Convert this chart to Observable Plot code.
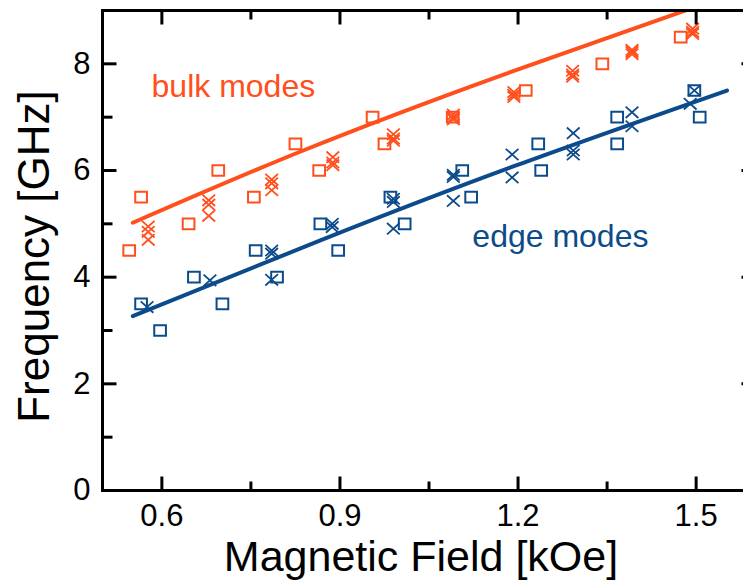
<!DOCTYPE html>
<html>
<head>
<meta charset="utf-8">
<script src="https://cdn.jsdelivr.net/npm/d3@7"></script>
<script src="https://cdn.jsdelivr.net/npm/@observablehq/plot@0.6"></script>
<style>
  html, body { margin: 0; padding: 0; background: #fff; overflow: hidden; }
  #chart svg { display: block; max-width: none; }
</style>
</head>
<body>
<div id="chart"></div>
<script>
// Bulk modes: measured frequencies (squares and crosses) and the calculated curve
const bulkSquareField = [0.545, 0.565, 0.645, 0.695, 0.755, 0.825, 0.865, 0.955, 0.975, 1.09, 1.213, 1.342, 1.474];
const bulkSquareFreq  = [4.5, 5.5, 5.0, 6.0, 5.5, 6.5, 6.0, 7.0, 6.5, 7.0, 7.5, 8.0, 8.5];
const bulkCrossField = [0.577, 0.577, 0.577, 0.679, 0.679, 0.679, 0.785, 0.785, 0.785, 0.888, 0.888, 0.888,
                        0.99, 0.99, 0.99, 1.091, 1.091, 1.091, 1.193, 1.193, 1.193, 1.292, 1.292, 1.292,
                        1.392, 1.392, 1.392, 1.494, 1.494, 1.494];
const bulkCrossFreq  = [4.95, 4.85, 4.7, 5.44, 5.36, 5.15, 5.83, 5.76, 5.63, 6.25, 6.15, 6.1,
                        6.68, 6.6, 6.56, 7.05, 7.0, 6.96, 7.47, 7.42, 7.38, 7.87, 7.8, 7.76,
                        8.26, 8.22, 8.18, 8.66, 8.6, 8.56];
const bulkCurveField = [0.551, 0.837, 1.171, 1.474, 1.55];
const bulkCurveFreq  = [5.02, 6.37, 7.78, 8.97, 9.27];

// Edge modes
const edgeSquareField = [0.565, 0.597, 0.654, 0.702, 0.758, 0.794, 0.867, 0.897, 0.985, 1.009, 1.106, 1.121,
                         1.234, 1.239, 1.367, 1.367, 1.497, 1.506];
const edgeSquareFreq  = [3.5, 3.0, 4.0, 3.5, 4.5, 4.0, 5.0, 4.5, 5.5, 5.0, 6.0, 5.5,
                         6.5, 6.0, 7.0, 6.5, 7.5, 7.0];
const edgeCrossField = [0.575, 0.681, 0.785, 0.785, 0.785, 0.887, 0.887, 0.99, 0.99, 0.99,
                        1.091, 1.091, 1.091, 1.19, 1.19, 1.293, 1.293, 1.293, 1.392, 1.392, 1.49, 1.497];
const edgeCrossFreq  = [3.44, 3.94, 4.5, 4.44, 3.95, 5.0, 4.94, 5.47, 5.41, 4.91,
                        5.92, 5.88, 5.43, 6.3, 5.87, 6.7, 6.375, 6.3, 7.09, 6.83, 7.25, 7.5];
const edgeCurveField = [0.551, 0.867, 1.193, 1.552];
const edgeCurveFreq  = [3.27, 4.69, 6.08, 7.5];

// Axes
const xMajorTicks = [0.6, 0.9, 1.2, 1.5];
const xMinorTicks = [0.75, 1.05, 1.35];
const yMajorTicks = [0, 2, 4, 6, 8];
const yMinorTicks = [1, 3, 5, 7];
const xTitle = "Magnetic Field [kOe]";
const yTitle = "Frequency [GHz]";

// Curve labels
const labelText  = ["bulk modes", "edge modes"];
const labelField = [0.5826, 1.123];
const labelFreq  = [7.375, 4.575];

const orange = "#ff4f1c";
const blue = "#0b4b8b";
const font = "'Liberation Sans', Arial, Helvetica, sans-serif";

const pts = (xs, ys) => xs.map((x, i) => ({x, y: ys[i]}));

// Slightly wide open square and cross markers
const squareSym = {draw(ctx, size) {
  const h = Math.sqrt(size), w = h * 1.1;
  ctx.moveTo(-w / 2, -h / 2); ctx.lineTo(w / 2, -h / 2); ctx.lineTo(w / 2, h / 2);
  ctx.lineTo(-w / 2, h / 2); ctx.closePath();
}};
const crossSym = {draw(ctx, size) {
  const a = Math.sqrt(size) / 2, b = a * 1.12;
  ctx.moveTo(-b, -a); ctx.lineTo(b, a); ctx.moveTo(b, -a); ctx.lineTo(-b, a);
}};
// Straight tick stub used by vector marks
const stub = {draw(ctx, l) { ctx.moveTo(0, 0); ctx.lineTo(0, -l); }};

const tickMarks = (values, anchor, len) => {
  const horizontal = anchor === "top" || anchor === "bottom";
  const rotate = {bottom: 0, top: 180, left: 90, right: -90}[anchor];
  return Plot.vector(values, {
    [horizontal ? "x" : "y"]: d => d,
    frameAnchor: anchor, length: len, rotate, anchor: "start", shape: stub,
    stroke: "black", strokeWidth: 3, strokeLinecap: "butt"
  });
};

const chart = Plot.plot({
  width: 755, height: 581,
  marginLeft: 102, marginRight: 0, marginTop: 10, marginBottom: 91,
  style: {fontFamily: font, background: "white", overflow: "visible", maxWidth: "none"},
  x: {domain: [0.5, 1.6], axis: null},
  y: {domain: [0, 9], axis: null},
  marks: [
    Plot.line(pts(bulkCurveField, bulkCurveFreq), {x: "x", y: "y", stroke: orange, strokeWidth: 4, curve: "natural", clip: true}),
    Plot.line(pts(edgeCurveField, edgeCurveFreq), {x: "x", y: "y", stroke: blue, strokeWidth: 4, curve: "natural", clip: true}),
    Plot.dot(pts(bulkSquareField, bulkSquareFreq), {x: "x", y: "y", symbol: squareSym, r: 6, stroke: orange, strokeWidth: 2, fill: "none"}),
    Plot.dot(pts(bulkCrossField, bulkCrossFreq), {x: "x", y: "y", symbol: crossSym, r: 6.4, stroke: orange, strokeWidth: 1.8, fill: "none"}),
    Plot.dot(pts(edgeSquareField, edgeSquareFreq), {x: "x", y: "y", symbol: squareSym, r: 6, stroke: blue, strokeWidth: 2, fill: "none"}),
    Plot.dot(pts(edgeCrossField, edgeCrossFreq), {x: "x", y: "y", symbol: crossSym, r: 6.4, stroke: blue, strokeWidth: 1.8, fill: "none"}),
    Plot.frame({stroke: "black", strokeWidth: 3}),
    tickMarks(xMajorTicks, "bottom", 14), tickMarks(xMinorTicks, "bottom", 9),
    tickMarks(xMajorTicks, "top", 14), tickMarks(xMinorTicks, "top", 9),
    tickMarks(yMajorTicks, "left", 14), tickMarks(yMinorTicks, "left", 10),
    tickMarks(yMajorTicks, "right", 14), tickMarks(yMinorTicks, "right", 9),
    Plot.text(xMajorTicks, {x: d => d, frameAnchor: "bottom", dy: 13, lineAnchor: "top", textAnchor: "middle",
      text: d => d.toFixed(1), fontSize: 31, fill: "black", ariaLabel: "x tick labels"}),
    Plot.text(yMajorTicks, {y: d => d, frameAnchor: "left", dx: -12, textAnchor: "end",
      text: d => String(d), fontSize: 31, fill: "black", ariaLabel: "y tick labels"}),
    Plot.text([xTitle], {frameAnchor: "bottom", dx: -8, dy: 50, lineAnchor: "top", textAnchor: "middle",
      text: d => d, fontSize: 43, fill: "black", ariaLabel: "x title"}),
    Plot.text([yTitle], {frameAnchor: "left", rotate: -90, dx: -54, dy: 6, lineAnchor: "bottom", textAnchor: "middle",
      text: d => d, fontSize: 44, fill: "black", ariaLabel: "y title"}),
    Plot.text(labelText.map((t, i) => ({t, x: labelField[i], y: labelFreq[i], c: i === 0 ? orange : blue})),
      {x: "x", y: "y", text: "t", fill: "c", textAnchor: "start", lineAnchor: "bottom", fontSize: 32})
  ]
});

// Widen the axis lettering a little, about each label's own anchor point
function widen(selector, s) {
  chart.querySelectorAll(selector).forEach(el => {
    const t = el.getAttribute("transform") || "";
    const x = +el.getAttribute("x") || 0, y = +el.getAttribute("y") || 0;
    el.setAttribute("transform", `${t} translate(${x},${y}) scale(${s},1) translate(${-x},${-y})`);
  });
}
widen('g[aria-label="x tick labels"] text', 1.15);
widen('g[aria-label="y tick labels"] text', 1.15);
widen('g[aria-label="x title"] text', 1.04);

document.getElementById("chart").appendChild(chart);
</script>
</body>
</html>
